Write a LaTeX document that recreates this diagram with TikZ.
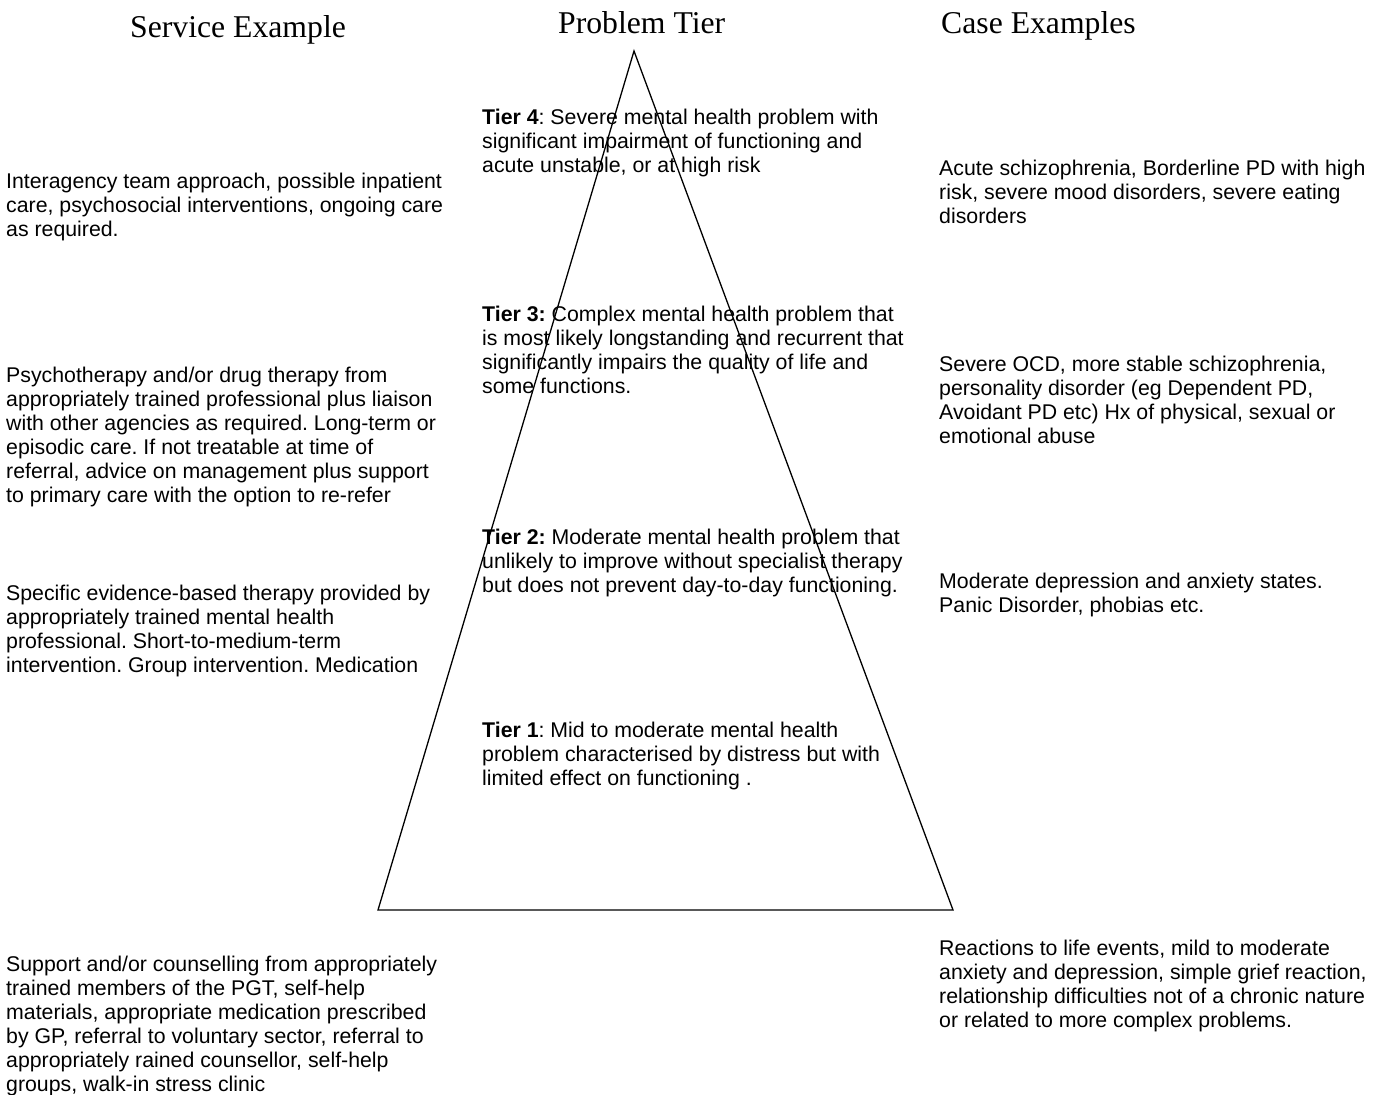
\documentclass[tikz,border=0pt]{standalone}
\usepackage{fontspec}
\setmainfont{Liberation Sans}
\newfontfamily\headfont{Liberation Serif}
\usetikzlibrary{positioning}
\frenchspacing

\begin{document}
\begin{tikzpicture}[x=1pt,y=-1pt,
    heading/.style={anchor=base west, inner sep=0pt, font=\headfont\fontsize{31.7}{36}\selectfont},
    blurb/.style={anchor=base west, align=left, inner sep=0pt, font=\fontsize{21.3}{24}\selectfont}]

        \useasboundingbox (0,0) rectangle (1385,1095);

        % Column titles
        \node[heading] (servhead) at (130,37) {Service Example};
        \node[heading] (tierhead) at (558,33) {Problem Tier};
        \node[heading] (casehead) at (941,33) {Case Examples};

        % Pyramid
        \coordinate (apex) at (634,51);
        \coordinate (baseL) at (378,910);
        \coordinate (baseR) at (953,910);
        \draw[line width=1.3pt] (apex) -- (baseR) -- (baseL) -- cycle;

        % Service examples (left) -- y is the baseline of the last line
        \node[blurb] (serv4) at (6,236) {Interagency team approach, possible inpatient\\care, psychosocial interventions, ongoing care\\as required.};
        \node[blurb] (serv3) at (6,502) {Psychotherapy and/or drug therapy from\\appropriately trained professional plus liaison\\with other agencies as required. Long-term or\\episodic care. If not treatable at time of\\referral, advice on management plus support\\to primary care with the option to re-refer};
        \node[blurb] (serv2) at (6,672) {Specific evidence-based therapy provided by\\appropriately trained mental health\\professional. Short-to-medium-term\\intervention. Group intervention. Medication};
        \node[blurb] (serv1) at (6,1091) {Support and/or counselling from appropriately\\trained members of the PGT, self-help\\materials, appropriate medication prescribed\\by GP, referral to voluntary sector, referral to\\appropriately rained counsellor, self-help\\groups, walk-in stress clinic};

        % Tiers (middle)
        \node[blurb] (tier4) at (482,172) {\textbf{Tier 4}: Severe mental health problem with\\significant impairment of functioning and\\acute unstable, or at high risk};
        \node[blurb] (tier3) at (482,393) {\textbf{Tier 3:} Complex mental health problem that\\is most likely longstanding and recurrent that\\significantly impairs the quality of life and\\some functions.};
        \node[blurb] (tier2) at (482,592) {\textbf{Tier 2:} Moderate mental health problem that\\unlikely to improve without specialist therapy\\but does not prevent day-to-day functioning.};
        \node[blurb] (tier1) at (482,785) {\textbf{Tier 1}: Mid to moderate mental health\\problem characterised by distress but with\\limited effect on functioning .};

        % Case examples (right)
        \node[blurb] (case4) at (939,223) {Acute schizophrenia, Borderline PD with high\\risk, severe mood disorders, severe eating\\disorders};
        \node[blurb] (case3) at (939,443) {Severe OCD, more stable schizophrenia,\\personality disorder (eg Dependent PD,\\Avoidant PD etc) Hx of physical, sexual or\\emotional abuse};
        \node[blurb] (case2) at (939,612) {Moderate depression and anxiety states.\\Panic Disorder, phobias etc.};
        \node[blurb] (case1) at (939,1027) {Reactions to life events, mild to moderate\\anxiety and depression, simple grief reaction,\\relationship difficulties not of a chronic nature\\or related to more complex problems.};

\end{tikzpicture}
\end{document}
